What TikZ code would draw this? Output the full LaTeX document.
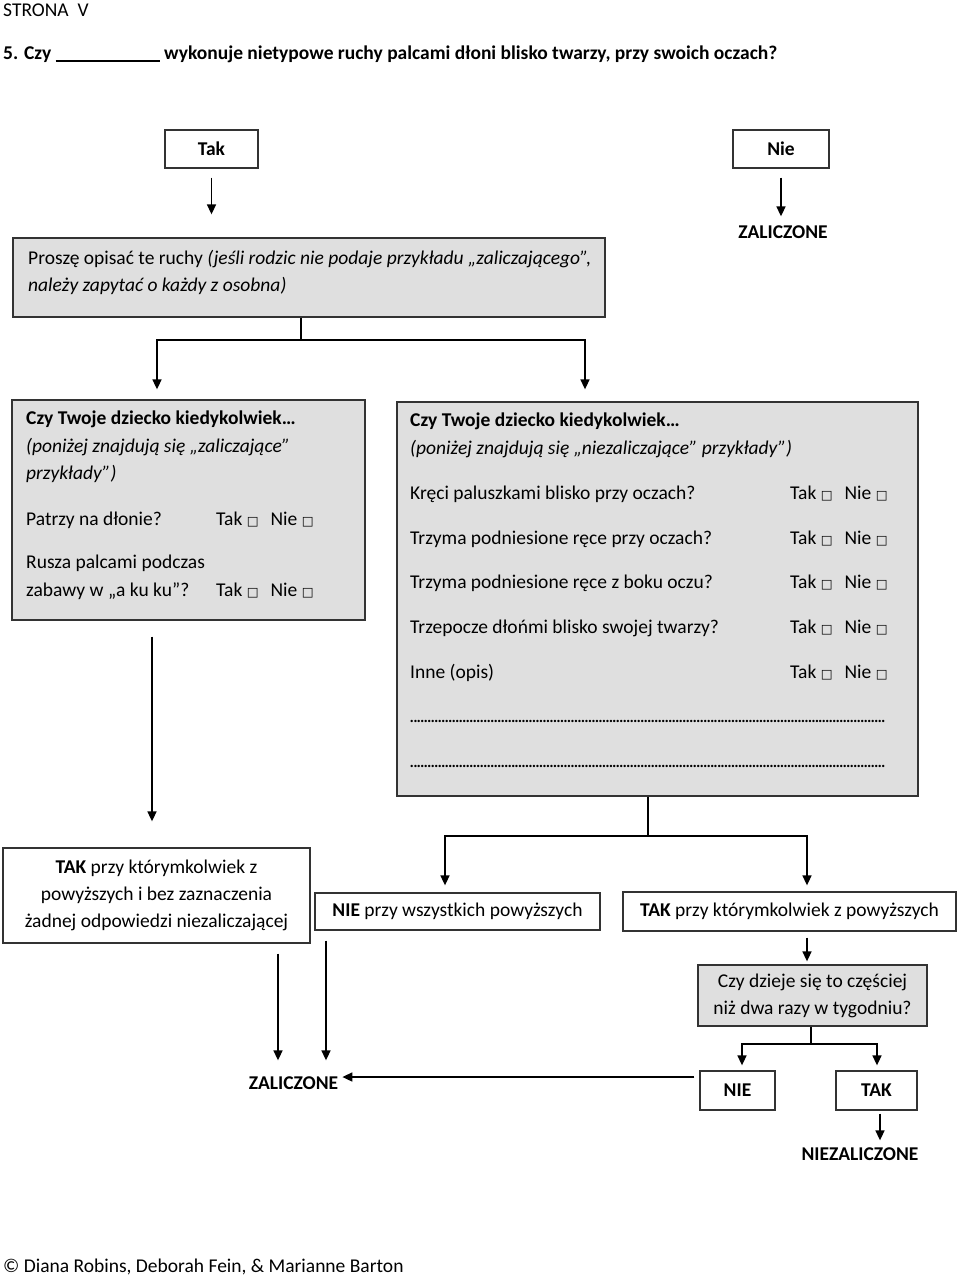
\documentclass[tikz,border=0pt]{standalone}
\usepackage{fontspec}
\setmainfont{Carlito}
\newfontfamily\dvfont{DejaVu Sans}
\usetikzlibrary{arrows.meta}
\newcommand{\cbx}{{\dvfont\fontsize{12.5}{12.5}\selectfont □}}
\newcommand{\tn}{Tak \cbx\hspace{12pt}Nie \cbx}
\newcommand{\dotrow}{\makebox[478pt]{\leaders\hbox to 3.5pt{\hss.\hss}\hfill}}
\begin{document}
\begin{tikzpicture}[x=1pt,y=-1pt,font=\fontsize{19.5}{27}\selectfont,
  box/.style={draw=black!80, line width=1.3pt, inner sep=0pt, align=center},
  gbox/.style={box, fill=gray!25},
  arr/.style={-{Triangle[length=10pt,width=9pt]}, line width=1.6pt},
  ln/.style={line width=1.3pt},
  txt/.style={inner sep=0pt, anchor=base west},
  lbl/.style={inner sep=0pt}]
\useasboundingbox (0,0) rectangle (960,1278);
\fill[white] (0,0) rectangle (960,1278);

% header
\node[txt] (strona) at (3,16) {STRONA\ \ V};
\node[txt] (title) at (3,59) {\bfseries 5. Czy \rule[-3pt]{104pt}{1.6pt} wykonuje nietypowe ruchy palcami dłoni blisko twarzy, przy swoich oczach?};

% top row
\node[box, minimum width=93pt, minimum height=38pt] (tak) at (211.5,149) {\bfseries Tak};
\node[box, minimum width=96pt, minimum height=38pt] (nie) at (781,149) {\bfseries Nie};
\node[lbl] (zal1) at (783,232) {\bfseries ZALICZONE};

% description box
\node[gbox, minimum width=592pt, minimum height=79pt] (desc) at (309,277.5) {};
\node[txt] (d1) at (28,264) {Proszę opisać te ruchy \textit{(jeśli rodzic nie podaje przykładu „zaliczającego”,}};
\node[txt] (d2) at (28,291) {\textit{należy zapytać o każdy z osobna)}};

\draw[arr, shorten <=9pt, shorten >=23pt] (tak.south) -- (tak.south |- desc.north);
\draw[arr, shorten <=9pt, shorten >=9pt] (nie.south) -- (nie.south |- zal1.north);

% left box
\node[gbox, minimum width=353pt, minimum height=220pt] (lbox) at (188.5,510) {};
\node[txt] (l1) at (26,424) {\bfseries Czy Twoje dziecko kiedykolwiek…};
\node[txt] (l2) at (26,452) {\itshape (poniżej znajdują się „zaliczające”};
\node[txt] (l3) at (26,479) {\itshape przykłady”)};
\node[txt] (l4) at (26,525) {Patrzy na dłonie?};
\node[txt] (l4a) at (216,525) {\tn};
\node[txt] (l5) at (26,568) {Rusza palcami podczas};
\node[txt] (l6) at (26,596) {zabawy w „a ku ku”?};
\node[txt] (l6a) at (216,596) {\tn};

% right box
\node[gbox, minimum width=521pt, minimum height=394pt] (rbox) at (657.5,599) {};
\node[txt] (r1) at (410,426) {\bfseries Czy Twoje dziecko kiedykolwiek…};
\node[txt] (r2) at (410,454) {\itshape (poniżej znajdują się „niezaliczające” przykłady”)};
\node[txt] (r3) at (410,499) {Kręci paluszkami blisko przy oczach?};
\node[txt] (r3a) at (790,499) {\tn};
\node[txt] (r4) at (410,544) {Trzyma podniesione ręce przy oczach?};
\node[txt] (r4a) at (790,544) {\tn};
\node[txt] (r5) at (410,588) {Trzyma podniesione ręce z boku oczu?};
\node[txt] (r5a) at (790,588) {\tn};
\node[txt] (r6) at (410,633) {Trzepocze dłońmi blisko swojej twarzy?};
\node[txt] (r6a) at (790,633) {\tn};
\node[txt] (r7) at (410,678) {Inne (opis)};
\node[txt] (r7a) at (790,678) {\tn};
\node[txt] (r8) at (410,722) {\dotrow};
\node[txt] (r9) at (410,767) {\dotrow};

% split from description box
\coordinate (j1) at (301,340);
\draw[ln] (desc.south -| j1) -- (j1);
\draw[arr, shorten >=10pt] (j1) -| ([xshift=-31.5pt]lbox.north);
\draw[arr, shorten >=12pt] (j1) -| ([xshift=-72.5pt]rbox.north);

% bottom row boxes
\node[box, minimum width=307pt, minimum height=95pt] (lb3) at (156.5,895.5) {\textbf{TAK} przy którymkolwiek z\\powyższych i bez zaznaczenia\\żadnej odpowiedzi niezaliczającej};
\node[box, minimum width=285pt, minimum height=37pt] (nieall) at (457.5,911.5) {\textbf{NIE} przy wszystkich powyższych};
\node[box, minimum width=333pt, minimum height=39pt] (takany) at (789.5,911.5) {\textbf{TAK} przy którymkolwiek z powyższych};

\draw[arr, shorten <=16pt, shorten >=26pt] ([xshift=-36.5pt]lbox.south) -- ([xshift=-36.5pt]lbox.south |- lb3.north);

\coordinate (j2) at (648,836);
\draw[ln] (rbox.south -| j2) -- (j2);
\draw[arr, shorten >=7pt] (j2) -| ([xshift=-12.5pt]nieall.north);
\draw[arr, shorten >=6pt] (j2) -| ([xshift=17.5pt]takany.north);

% frequency question
\node[gbox, minimum width=229pt, minimum height=61pt] (q) at (812.5,995.5) {Czy dzieje się to częściej\\niż dwa razy w tygodniu?};
\draw[arr, shorten <=6pt, shorten >=3pt] ([xshift=17.5pt]takany.south) -- ([xshift=17.5pt]takany.south |- q.north);

\node[box, minimum width=75pt, minimum height=39pt] (nie2) at (737.5,1090.5) {\bfseries NIE};
\node[box, minimum width=81pt, minimum height=39pt] (tak2) at (876.5,1090.5) {\bfseries TAK};
\coordinate (j3) at (811,1044);
\draw[ln] (q.south -| j3) -- (j3);
\draw[arr, shorten >=5pt] (j3) -| ([xshift=4.5pt]nie2.north);
\draw[arr, shorten >=5pt] (j3) -| ([xshift=0.5pt]tak2.north);

\node[lbl] (niezal) at (860,1154) {\bfseries NIEZALICZONE};
\draw[arr, shorten <=3pt, shorten >=7pt] ([xshift=3.5pt]tak2.south) -- ([xshift=3.5pt]tak2.south |- niezal.north);

\node[lbl] (zal2) at (293.5,1083) {\bfseries ZALICZONE};
\draw[arr, shorten <=5pt, shorten >=4pt] ([yshift=13.5pt]nie2.west) -- ([yshift=6pt]zal2.east);
\draw[arr, shorten <=10pt, shorten >=16pt] ([xshift=121.5pt]lb3.south) -- ([xshift=-15.5pt]zal2.north);
\draw[arr, shorten <=10pt, shorten >=16pt] ([xshift=-131.5pt]nieall.south) -- ([xshift=32.5pt]zal2.north);

% footer
\node[txt] (foot) at (3,1272) {© Diana Robins, Deborah Fein, \& Marianne Barton};
\end{tikzpicture}
\end{document}
